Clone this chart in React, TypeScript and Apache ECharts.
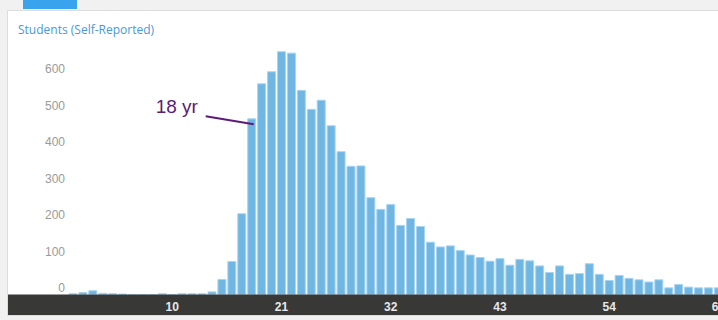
import React, { useEffect, useRef } from "react";
import * as echarts from "echarts";

const ages: string[] = [];
for (let a = 0; a <= 66; a++) ages.push(String(a));

const students: number[] = [
  5, 8, 13, 6, 5, 4, 0, 0, 0, 5,
  0, 5, 5, 5, 10, 44, 93, 224, 484, 580,
  613, 668, 664, 562, 510, 535, 465, 394, 354, 355,
  268, 236, 249, 192, 211, 189, 146, 133, 136, 123,
  111, 104, 94, 101, 83, 99, 95, 81, 63, 81,
  58, 60, 87, 58, 41, 55, 47, 43, 37, 43,
  21, 30, 23, 21, 21, 21, 18,
];

const yTicks = [0, 100, 200, 300, 400, 500, 600];
const shownXLabels = ["10", "21", "32", "43", "54", "65"];
const annotationAge = 18;
const annotationText = "18 yr";
const titleText = "Students (Self-Reported)";

export default function App() {
  const ref = useRef<HTMLDivElement>(null);

  useEffect(() => {
    if (!ref.current) return;
    const chart = echarts.init(ref.current, undefined, { renderer: "svg" });
    const W = 800;
    const catW = 9.93;
    const left = 68;
    const right = W - (left + ages.length * catW);

    chart.setOption({
      animation: false,
      grid: { left, right, top: 39.5, bottom: 25, containLabel: false },
      xAxis: {
        type: "category",
        data: ages,
        z: 20,
        axisLine: { show: false },
        axisTick: { show: false },
        axisLabel: {
          interval: (_i: number, v: string) => shownXLabels.includes(v),
          color: "#e8e8e8",
          fontSize: 12,
          fontWeight: "bold",
          fontFamily: "Liberation Sans",
          margin: 6,
        },
      },
      yAxis: {
        type: "value",
        min: 0,
        max: 700,
        interval: 100,
        axisLine: { show: false },
        axisTick: { show: false },
        splitLine: { show: false },
        axisLabel: {
          formatter: (v: number) => (yTicks.includes(v) ? String(v) : ""),
          color: "#9a9a9a",
          fontSize: 12,
          fontFamily: "Liberation Sans",
          margin: 3,
          verticalAlign: "bottom",
          lineHeight: 12,
          padding: [0, 0, 1, 0],
        },
      },
      series: [
        {
          type: "bar",
          data: students,
          barWidth: 9,
          itemStyle: {
            color: "#6fb6e3",
            borderColor: "#a8d4f0",
            borderWidth: 1,
          },
          z: 5,
        },
      ],
    });

    const p = chart.convertToPixel({ seriesIndex: 0 }, [annotationAge, students[annotationAge]]) as number[];
    chart.setOption({
      graphic: [
        { type: "rect", z: -10, silent: true, shape: { x: 0, y: 0, width: W, height: 320 }, style: { fill: "#f1f1f1" } },
        { type: "rect", z: -9, silent: true, shape: { x: 7.5, y: 10.5, width: W, height: 305 }, style: { fill: "#ffffff", stroke: "#dddddd", lineWidth: 1 } },
        { type: "rect", z: -9, silent: true, shape: { x: 23, y: 0, width: 54, height: 9 }, style: { fill: "#39a3ee" } },
        { type: "rect", z: 8, silent: true, shape: { x: 8, y: 294.5, width: W, height: 20.5 }, style: { fill: "#383837" } },
        {
          type: "text",
          z: 10,
          x: 18,
          y: 29.5,
          style: { text: titleText, fill: "#4799dc", font: "12px 'Open Sans'", verticalAlign: "middle" },
        },
        {
          type: "line",
          z: 20,
          shape: { x1: p[0] - 46, y1: p[1] - 2, x2: p[0] + 2, y2: p[1] + 6 },
          style: { stroke: "#5c1b7a", lineWidth: 2 },
        },
        {
          type: "text",
          z: 20,
          x: p[0] - 96,
          y: p[1] - 12,
          style: { text: annotationText, fill: "#5c1b7a", font: "19px 'Liberation Sans'", verticalAlign: "middle" },
        },
      ],
    });

    return () => chart.dispose();
  }, []);

  return (
    <div style={{ position: "absolute", left: 0, top: 0, width: 718, height: 320, overflow: "hidden" }}>
      <div ref={ref} style={{ width: 800, height: 320 }} />
    </div>
  );
}
